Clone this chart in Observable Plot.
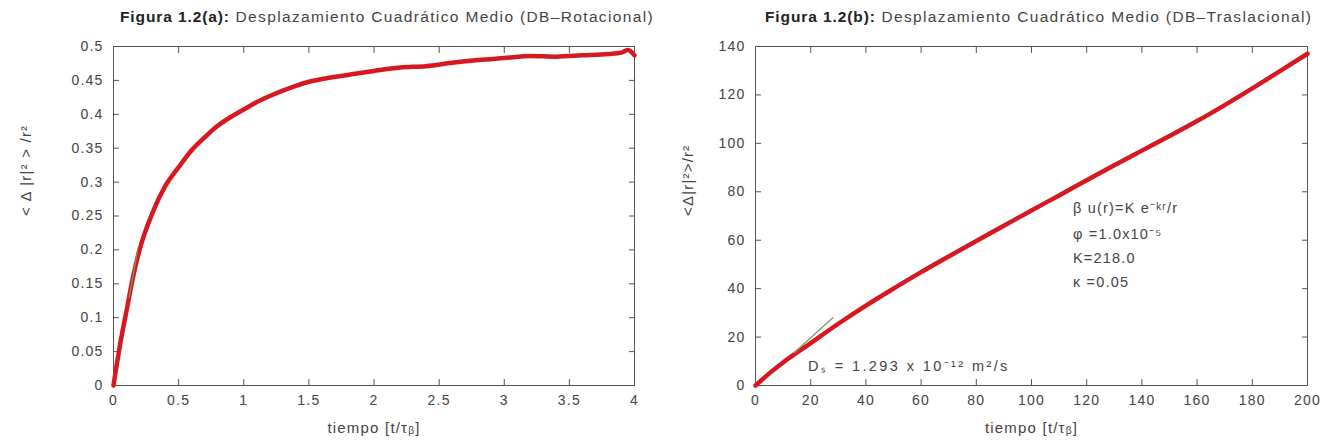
<!DOCTYPE html>
<html><head><meta charset="utf-8">
<script src="https://cdn.jsdelivr.net/npm/d3@7"></script>
<script src="https://cdn.jsdelivr.net/npm/@observablehq/plot@0.6"></script>
<style>
body{margin:0;background:#fff;font-family:"Liberation Sans",Arial,sans-serif;}
#wrap{position:relative;width:1325px;height:445px;}
.panel{position:absolute;top:0;}
.title{height:30px;line-height:34px;font-size:15.5px;letter-spacing:1.35px;color:#444;white-space:nowrap;}
.title b{color:#222;letter-spacing:0.9px}
.wide text{letter-spacing:1.2px}
.anno text{letter-spacing:1.2px}
.ds text{letter-spacing:2.4px}
</style></head><body>
<div id="wrap">
  <div class="panel" id="pa" style="left:0;width:662px"><div class="title" style="padding-left:120px"><b>Figura 1.2(a):</b> Desplazamiento Cuadrático Medio (DB–Rotacional)</div></div>
  <div class="panel" id="pb" style="left:662px;width:663px"><div class="title" style="padding-left:103px"><b>Figura 1.2(b):</b> Desplazamiento Cuadrático Medio (DB–Traslacional)</div></div>
</div>
<script>
// Panel (a): rotational MSD
const rotT = [0,0.02,0.05,0.1,0.15,0.2,0.3,0.4,0.5,0.6,0.7,0.8,0.9,1.0,1.1,1.2,1.3,1.4,1.5,1.6,1.8,2.0,2.2,2.4,2.6,2.8,3.0,3.2,3.4,3.6,3.8,3.9,3.95,4.0];
const rotV = [0,0.025,0.06,0.11,0.16,0.2,0.255,0.295,0.322,0.347,0.366,0.383,0.396,0.407,0.418,0.427,0.435,0.442,0.448,0.452,0.458,0.464,0.469,0.471,0.476,0.480,0.483,0.486,0.485,0.487,0.489,0.491,0.495,0.487];
const rotFitT = [0.12,0.19];
const rotFitV = [0.13,0.205];
const rotXTicks = [0,0.5,1,1.5,2,2.5,3,3.5,4];
const rotYTicks = [0,0.05,0.1,0.15,0.2,0.25,0.3,0.35,0.4,0.45,0.5];

// Panel (b): translational MSD
const traT = [0,5,10,20,30,40,50,60,70,80,90,100,110,120,130,140,150,160,170,180,190,200];
const traV = [0,5,9.5,17.5,25.5,33,40,46.8,53.3,59.7,66,72.3,78.5,84.8,91,97,103,109.2,115.8,122.7,129.8,137];
const traFitT = [14,28];
const traFitV = [13.5,28];
const traXTicks = [0,20,40,60,80,100,120,140,160,180,200];
const traYTicks = [0,20,40,60,80,100,120,140];
const annoLines = ["β u(r)=K e⁻ᵏʳ/r","φ =1.0x10⁻⁵","K=218.0","κ =0.05"];
const annoX = [115,115,115,115];
const annoY = [73,62.5,52.5,42.5];
const dsText = "Dₛ = 1.293 x 10⁻¹² m²/s";
const dsX = 19, dsY = 8;

function panel({T,V,fitT,fitV,xTicks,yTicks,xDom,yDom,ylabel,mL,mR,W,extra=[]}) {
  const data = T.map((t,i)=>({t,v:V[i]}));
  const fit = fitT.map((t,i)=>({t,v:fitV[i]}));
  const fmt = d => String(d);
  const none = () => "";
  return Plot.plot({
    width: W, height:415,
    marginLeft:mL, marginRight:mR, marginTop:16, marginBottom:60,
    style:{fontFamily:"Liberation Sans, Arial, sans-serif", fontSize:"14px", color:"#444", background:"#fff"},
    x:{domain:xDom}, y:{domain:yDom},
    marks:[
      Plot.frame({stroke:"#555"}),
      // labels
      Plot.axisX(xTicks,{anchor:"bottom", tickSize:0, tickPadding:10, tickFormat:fmt, label:null, fontSize:14, className:"wide"}),
      Plot.axisY(yTicks,{anchor:"left", tickSize:0, tickPadding:10, tickFormat:fmt, label:null, fontSize:14, className:"wide"}),
      // inward ticks on all four sides
      Plot.axisX(xTicks,{anchor:"bottom", tickSize:6, dy:-6, tickFormat:none, label:null, stroke:"#555"}),
      Plot.axisX(xTicks,{anchor:"top", tickSize:6, dy:6, tickFormat:none, label:null, stroke:"#555"}),
      Plot.axisY(yTicks,{anchor:"left", tickSize:6, dx:6, tickFormat:none, label:null, stroke:"#555"}),
      Plot.axisY(yTicks,{anchor:"right", tickSize:6, dx:-6, tickFormat:none, label:null, stroke:"#555"}),
      Plot.line(data,{x:"t",y:"v",stroke:"#d81820",strokeWidth:4.5,curve:"monotone-x"}),
      Plot.line(fit,{x:"t",y:"v",stroke:"#7c9a5c",strokeWidth:1.2}),
      Plot.text(["tiempo [t/τᵦ]"],{frameAnchor:"bottom",dy:47,fontSize:15,fill:"#444",className:"wide"}),
      Plot.text([ylabel],{frameAnchor:"left",dx:-mL+26,rotate:-90,fontSize:15,fill:"#444",className:"wide"}),
      ...extra
    ]
  });
}

document.getElementById("pa").appendChild(panel({
  T:rotT,V:rotV,fitT:rotFitT,fitV:rotFitV,xTicks:rotXTicks,yTicks:rotYTicks,
  xDom:[0,4],yDom:[0,0.5],ylabel:"< Δ |r|² > /r²",mL:113,mR:28,W:662
}));

const anno = annoLines.map((s,i)=>({s,x:annoX[i],y:annoY[i]}));
document.getElementById("pb").appendChild(panel({
  T:traT,V:traV,fitT:traFitT,fitV:traFitV,xTicks:traXTicks,yTicks:traYTicks,
  xDom:[0,200],yDom:[0,140],ylabel:"<Δ|r|²>/r²",mL:93,mR:18,W:663,
  extra:[
    Plot.text(anno,{x:"x",y:"y",text:"s",textAnchor:"start",fontSize:14.5,fill:"#444",className:"anno"}),
    Plot.text([dsText],{x:()=>dsX,y:()=>dsY,textAnchor:"start",fontSize:14.5,fill:"#444",className:"ds"})
  ]
}));
</script>
</body></html>
